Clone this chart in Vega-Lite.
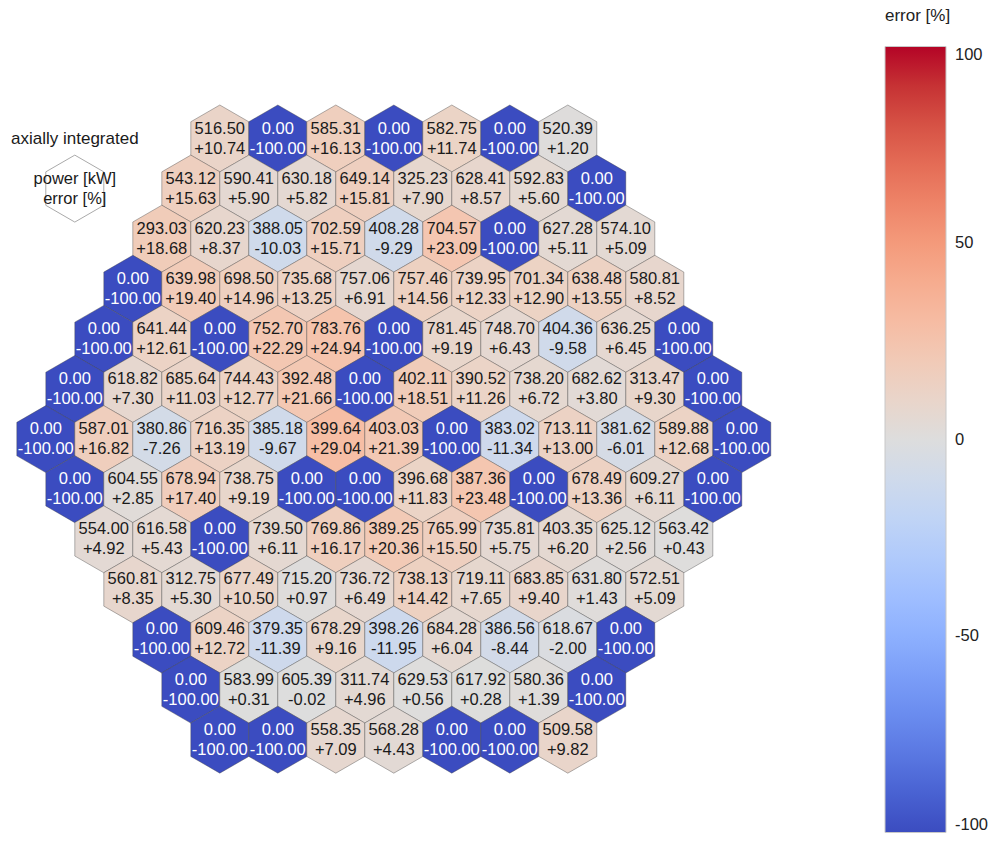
{
  "$schema": "https://vega.github.io/schema/vega-lite/v6.json",
  "width": 990,
  "height": 842,
  "autosize": {"type": "none"},
  "padding": 0,
  "background": "white",
  "config": {
    "view": {"stroke": null},
    "locale": {"number": {"decimal": ".", "thousands": ",", "grouping": [3], "currency": ["$", ""], "minus": "-"}}
  },
  "datasets": {
    "hex": [
      {"c": 3, "r": 0, "p": 516.50, "e": 10.74},
      {"c": 4, "r": 0, "p": 0, "e": -100},
      {"c": 5, "r": 0, "p": 585.31, "e": 16.13},
      {"c": 6, "r": 0, "p": 0, "e": -100},
      {"c": 7, "r": 0, "p": 582.75, "e": 11.74},
      {"c": 8, "r": 0, "p": 0, "e": -100},
      {"c": 9, "r": 0, "p": 520.39, "e": 1.20},

      {"c": 2.5, "r": 1, "p": 543.12, "e": 15.63},
      {"c": 3.5, "r": 1, "p": 590.41, "e": 5.90},
      {"c": 4.5, "r": 1, "p": 630.18, "e": 5.82},
      {"c": 5.5, "r": 1, "p": 649.14, "e": 15.81},
      {"c": 6.5, "r": 1, "p": 325.23, "e": 7.90},
      {"c": 7.5, "r": 1, "p": 628.41, "e": 8.57},
      {"c": 8.5, "r": 1, "p": 592.83, "e": 5.60},
      {"c": 9.5, "r": 1, "p": 0, "e": -100},

      {"c": 2, "r": 2, "p": 293.03, "e": 18.68},
      {"c": 3, "r": 2, "p": 620.23, "e": 8.37},
      {"c": 4, "r": 2, "p": 388.05, "e": -10.03},
      {"c": 5, "r": 2, "p": 702.59, "e": 15.71},
      {"c": 6, "r": 2, "p": 408.28, "e": -9.29},
      {"c": 7, "r": 2, "p": 704.57, "e": 23.09},
      {"c": 8, "r": 2, "p": 0, "e": -100},
      {"c": 9, "r": 2, "p": 627.28, "e": 5.11},
      {"c": 10, "r": 2, "p": 574.10, "e": 5.09},

      {"c": 1.5, "r": 3, "p": 0, "e": -100},
      {"c": 2.5, "r": 3, "p": 639.98, "e": 19.40},
      {"c": 3.5, "r": 3, "p": 698.50, "e": 14.96},
      {"c": 4.5, "r": 3, "p": 735.68, "e": 13.25},
      {"c": 5.5, "r": 3, "p": 757.06, "e": 6.91},
      {"c": 6.5, "r": 3, "p": 757.46, "e": 14.56},
      {"c": 7.5, "r": 3, "p": 739.95, "e": 12.33},
      {"c": 8.5, "r": 3, "p": 701.34, "e": 12.90},
      {"c": 9.5, "r": 3, "p": 638.48, "e": 13.55},
      {"c": 10.5, "r": 3, "p": 580.81, "e": 8.52},

      {"c": 1, "r": 4, "p": 0, "e": -100},
      {"c": 2, "r": 4, "p": 641.44, "e": 12.61},
      {"c": 3, "r": 4, "p": 0, "e": -100},
      {"c": 4, "r": 4, "p": 752.70, "e": 22.29},
      {"c": 5, "r": 4, "p": 783.76, "e": 24.94},
      {"c": 6, "r": 4, "p": 0, "e": -100},
      {"c": 7, "r": 4, "p": 781.45, "e": 9.19},
      {"c": 8, "r": 4, "p": 748.70, "e": 6.43},
      {"c": 9, "r": 4, "p": 404.36, "e": -9.58},
      {"c": 10, "r": 4, "p": 636.25, "e": 6.45},
      {"c": 11, "r": 4, "p": 0, "e": -100},

      {"c": 0.5, "r": 5, "p": 0, "e": -100},
      {"c": 1.5, "r": 5, "p": 618.82, "e": 7.30},
      {"c": 2.5, "r": 5, "p": 685.64, "e": 11.03},
      {"c": 3.5, "r": 5, "p": 744.43, "e": 12.77},
      {"c": 4.5, "r": 5, "p": 392.48, "e": 21.66},
      {"c": 5.5, "r": 5, "p": 0, "e": -100},
      {"c": 6.5, "r": 5, "p": 402.11, "e": 18.51},
      {"c": 7.5, "r": 5, "p": 390.52, "e": 11.26},
      {"c": 8.5, "r": 5, "p": 738.20, "e": 6.72},
      {"c": 9.5, "r": 5, "p": 682.62, "e": 3.80},
      {"c": 10.5, "r": 5, "p": 313.47, "e": 9.30},
      {"c": 11.5, "r": 5, "p": 0, "e": -100},

      {"c": 0, "r": 6, "p": 0, "e": -100},
      {"c": 1, "r": 6, "p": 587.01, "e": 16.82},
      {"c": 2, "r": 6, "p": 380.86, "e": -7.26},
      {"c": 3, "r": 6, "p": 716.35, "e": 13.19},
      {"c": 4, "r": 6, "p": 385.18, "e": -9.67},
      {"c": 5, "r": 6, "p": 399.64, "e": 29.04},
      {"c": 6, "r": 6, "p": 403.03, "e": 21.39},
      {"c": 7, "r": 6, "p": 0, "e": -100},
      {"c": 8, "r": 6, "p": 383.02, "e": -11.34},
      {"c": 9, "r": 6, "p": 713.11, "e": 13.00},
      {"c": 10, "r": 6, "p": 381.62, "e": -6.01},
      {"c": 11, "r": 6, "p": 589.88, "e": 12.68},
      {"c": 12, "r": 6, "p": 0, "e": -100},

      {"c": 0.5, "r": 7, "p": 0, "e": -100},
      {"c": 1.5, "r": 7, "p": 604.55, "e": 2.85},
      {"c": 2.5, "r": 7, "p": 678.94, "e": 17.40},
      {"c": 3.5, "r": 7, "p": 738.75, "e": 9.19},
      {"c": 4.5, "r": 7, "p": 0, "e": -100},
      {"c": 5.5, "r": 7, "p": 0, "e": -100},
      {"c": 6.5, "r": 7, "p": 396.68, "e": 11.83},
      {"c": 7.5, "r": 7, "p": 387.36, "e": 23.48},
      {"c": 8.5, "r": 7, "p": 0, "e": -100},
      {"c": 9.5, "r": 7, "p": 678.49, "e": 13.36},
      {"c": 10.5, "r": 7, "p": 609.27, "e": 6.11},
      {"c": 11.5, "r": 7, "p": 0, "e": -100},

      {"c": 1, "r": 8, "p": 554.00, "e": 4.92},
      {"c": 2, "r": 8, "p": 616.58, "e": 5.43},
      {"c": 3, "r": 8, "p": 0, "e": -100},
      {"c": 4, "r": 8, "p": 739.50, "e": 6.11},
      {"c": 5, "r": 8, "p": 769.86, "e": 16.17},
      {"c": 6, "r": 8, "p": 389.25, "e": 20.36},
      {"c": 7, "r": 8, "p": 765.99, "e": 15.50},
      {"c": 8, "r": 8, "p": 735.81, "e": 5.75},
      {"c": 9, "r": 8, "p": 403.35, "e": 6.20},
      {"c": 10, "r": 8, "p": 625.12, "e": 2.56},
      {"c": 11, "r": 8, "p": 563.42, "e": 0.43},

      {"c": 1.5, "r": 9, "p": 560.81, "e": 8.35},
      {"c": 2.5, "r": 9, "p": 312.75, "e": 5.30},
      {"c": 3.5, "r": 9, "p": 677.49, "e": 10.50},
      {"c": 4.5, "r": 9, "p": 715.20, "e": 0.97},
      {"c": 5.5, "r": 9, "p": 736.72, "e": 6.49},
      {"c": 6.5, "r": 9, "p": 738.13, "e": 14.42},
      {"c": 7.5, "r": 9, "p": 719.11, "e": 7.65},
      {"c": 8.5, "r": 9, "p": 683.85, "e": 9.40},
      {"c": 9.5, "r": 9, "p": 631.80, "e": 1.43},
      {"c": 10.5, "r": 9, "p": 572.51, "e": 5.09},

      {"c": 2, "r": 10, "p": 0, "e": -100},
      {"c": 3, "r": 10, "p": 609.46, "e": 12.72},
      {"c": 4, "r": 10, "p": 379.35, "e": -11.39},
      {"c": 5, "r": 10, "p": 678.29, "e": 9.16},
      {"c": 6, "r": 10, "p": 398.26, "e": -11.95},
      {"c": 7, "r": 10, "p": 684.28, "e": 6.04},
      {"c": 8, "r": 10, "p": 386.56, "e": -8.44},
      {"c": 9, "r": 10, "p": 618.67, "e": -2.00},
      {"c": 10, "r": 10, "p": 0, "e": -100},

      {"c": 2.5, "r": 11, "p": 0, "e": -100},
      {"c": 3.5, "r": 11, "p": 583.99, "e": 0.31},
      {"c": 4.5, "r": 11, "p": 605.39, "e": -0.02},
      {"c": 5.5, "r": 11, "p": 311.74, "e": 4.96},
      {"c": 6.5, "r": 11, "p": 629.53, "e": 0.56},
      {"c": 7.5, "r": 11, "p": 617.92, "e": 0.28},
      {"c": 8.5, "r": 11, "p": 580.36, "e": 1.39},
      {"c": 9.5, "r": 11, "p": 0, "e": -100},

      {"c": 3, "r": 12, "p": 0, "e": -100},
      {"c": 4, "r": 12, "p": 0, "e": -100},
      {"c": 5, "r": 12, "p": 558.35, "e": 7.09},
      {"c": 6, "r": 12, "p": 568.28, "e": 4.43},
      {"c": 7, "r": 12, "p": 0, "e": -100},
      {"c": 8, "r": 12, "p": 0, "e": -100},
      {"c": 9, "r": 12, "p": 509.58, "e": 9.82}
    ],
    "key": [
      {"c": 0.5, "r": 1, "l1": "power [kW]", "l2": "error [%]"}
    ],
    "caption": [
      {"c": 0.5, "r": 0, "label": "axially integrated"}
    ]
  },
  "encoding": {
    "x": {"field": "c", "type": "quantitative", "scale": {"domain": [-0.7897, 16.279], "nice": false, "zero": false}, "axis": null},
    "y": {"field": "r", "type": "quantitative", "scale": {"domain": [-2.7645, 14.042], "nice": false, "zero": false, "reverse": true}, "axis": null}
  },
  "layer": [
    {
      "data": {"name": "hex"},
      "mark": {"type": "point", "shape": "M0,-1.1547L1,-0.57735L1,0.57735L0,1.1547L-1,0.57735L-1,-0.57735Z", "size": 3364, "filled": true, "opacity": 1, "stroke": "#444", "strokeOpacity": 0.4, "strokeWidth": 1},
      "encoding": {
        "fill": {
          "field": "e", "type": "quantitative",
          "scale": {
            "domain": [-100, -87.5, -75, -62.5, -50, -37.5, -25, -12.5, 0, 12.5, 25, 37.5, 50, 62.5, 75, 87.5, 100],
            "range": ["#3b4cc0", "#4d68d7", "#6282ea", "#779af7", "#8db0fe", "#a3c2ff", "#b8d0f9", "#ccd9ee", "#dddddd", "#ecd3c5", "#f5c4ad", "#f7b194", "#f49a7b", "#ec7f63", "#de604d", "#cb3e38", "#b40426"],
            "interpolate": "rgb"
          },
          "legend": {
            "title": "error [%]",
            "orient": "none",
            "legendX": 885,
            "legendY": 8,
            "direction": "vertical",
            "gradientLength": 786,
            "gradientThickness": 61,
            "values": [-100, -50, 0, 50, 100],
            "labelFont": "Liberation Sans",
            "labelFontSize": 16.5,
            "labelOffset": 9,
            "labelColor": "#222222",
            "labelOverlap": false,
            "titleFont": "Liberation Sans",
            "titleFontSize": 17,
            "titleFontWeight": "normal",
            "titleColor": "#222222",
            "titlePadding": 21.5,
            "gradientStrokeColor": "#c8c8c8",
            "gradientStrokeWidth": 1,
            "padding": 0,
            "encode": {"labels": {"dy": {"signal": "datum.perc >= 1 ? -8 : (datum.perc <= 0 ? 8 : 0)"}}}
          }
        }
      }
    },
    {
      "data": {"name": "hex"},
      "mark": {"type": "text", "dy": -10, "baseline": "middle", "align": "center", "font": "Liberation Sans", "fontSize": 16.5},
      "encoding": {
        "text": {"field": "p", "type": "quantitative", "format": ".2f"},
        "color": {"condition": {"test": "datum.e < -50", "value": "#ffffff"}, "value": "#1a1a1a"}
      }
    },
    {
      "data": {"name": "hex"},
      "mark": {"type": "text", "dy": 10, "baseline": "middle", "align": "center", "font": "Liberation Sans", "fontSize": 16.5},
      "encoding": {
        "text": {"field": "e", "type": "quantitative", "format": "+.2f"},
        "color": {"condition": {"test": "datum.e < -50", "value": "#ffffff"}, "value": "#1a1a1a"}
      }
    },
    {
      "data": {"name": "key"},
      "mark": {"type": "point", "shape": "M0,-1.1547L1,-0.57735L1,0.57735L0,1.1547L-1,0.57735L-1,-0.57735Z", "size": 3364, "filled": false, "opacity": 1, "stroke": "#aaaaaa", "strokeWidth": 1}
    },
    {
      "data": {"name": "key"},
      "mark": {"type": "text", "dy": -10, "baseline": "middle", "align": "center", "font": "Liberation Sans", "fontSize": 16.5, "color": "#1a1a1a"},
      "encoding": {"text": {"field": "l1", "type": "nominal"}}
    },
    {
      "data": {"name": "key"},
      "mark": {"type": "text", "dy": 10, "baseline": "middle", "align": "center", "font": "Liberation Sans", "fontSize": 16.5, "color": "#1a1a1a"},
      "encoding": {"text": {"field": "l2", "type": "nominal"}}
    },
    {
      "data": {"name": "caption"},
      "mark": {"type": "text", "baseline": "middle", "align": "center", "font": "Liberation Sans", "fontSize": 17, "color": "#1a1a1a"},
      "encoding": {"text": {"field": "label", "type": "nominal"}}
    }
  ]
}
